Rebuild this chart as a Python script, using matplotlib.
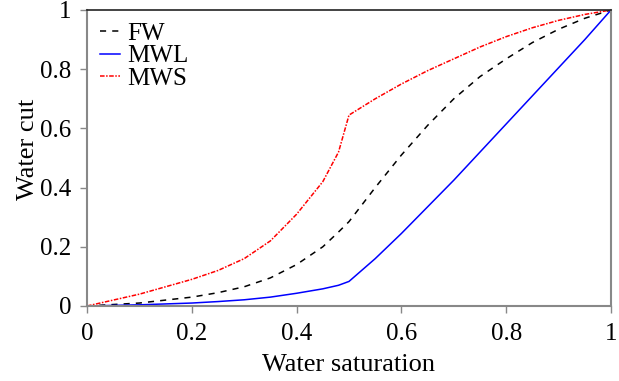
import matplotlib.pyplot as plt
import numpy as np

plt.rcParams['font.family'] = ['Liberation Serif', 'DejaVu Serif']

# Saturacao de agua (eixo x)
sw = [0.0, 0.1, 0.2, 0.25, 0.3, 0.35, 0.4, 0.45, 0.48, 0.5, 0.55, 0.6, 0.65,
      0.7, 0.75, 0.8, 0.85, 0.9, 0.95, 1.0]

# Curvas de water cut
fw = [0.0, 0.01, 0.03, 0.045, 0.065, 0.095, 0.14, 0.2, 0.25, 0.285, 0.40, 0.51,
      0.61, 0.70, 0.775, 0.835, 0.89, 0.935, 0.972, 1.0]
mwl = [0.0, 0.004, 0.01, 0.015, 0.021, 0.03, 0.043, 0.058, 0.07, 0.083, 0.16,
       0.245, 0.335, 0.425, 0.52, 0.615, 0.71, 0.805, 0.90, 1.0]
mws = [0.0, 0.04, 0.09, 0.12, 0.16, 0.22, 0.31, 0.42, 0.52, 0.645, 0.70, 0.75,
       0.795, 0.835, 0.875, 0.91, 0.94, 0.965, 0.985, 1.0]

xticks = [0, 0.2, 0.4, 0.6, 0.8, 1]
xticklabels = ['0', '0.2', '0.4', '0.6', '0.8', '1']
yticks = [0, 0.2, 0.4, 0.6, 0.8, 1]
yticklabels = ['0', '0.2', '0.4', '0.6', '0.8', '1']

fig = plt.figure(figsize=(6.19, 3.81), dpi=100)
ax = fig.add_axes([87 / 619, (381 - 306) / 381, 524 / 619, 296 / 381])

ax.plot(sw, fw, color='black', linestyle=(0, (4, 4)), linewidth=1.1, label='FW')
ax.plot(sw, mwl, color='blue', linestyle='-', linewidth=1.1, label='MWL')
ax.plot(sw, mws, color='red', linestyle=(0, (3, 1, 1, 1)), linewidth=1.1, label='MWS')

ax.set_xlim(0, 1)
ax.set_ylim(0, 1)
ax.set_xticks(xticks)
ax.set_xticklabels(xticklabels)
ax.set_yticks(yticks)
ax.set_yticklabels(yticklabels)
ax.tick_params(direction='out', length=5, color='#888888', labelsize=18, width=1)
ax.tick_params(axis='x', pad=7)
ax.tick_params(axis='y', pad=6)

# bordas: topo preto, resto cinza
ax.spines['top'].set_color('#222222')
ax.spines['top'].set_linewidth(1.2)
for s in ['left', 'right', 'bottom']:
    ax.spines[s].set_color('#888888')
    ax.spines[s].set_linewidth(1.5)

ax.set_xlabel('Water saturation', fontsize=19)
ax.set_ylabel('Water cut', fontsize=19)
ax.xaxis.set_label_coords(0.5, -0.163)
ax.yaxis.set_label_coords(-0.092, 0.53)

ax.legend(loc='upper left', frameon=False, fontsize=18, handlelength=0.8,
          handletextpad=0.3, labelspacing=0.0, borderaxespad=0.0,
          borderpad=0.5)

fig.savefig('out.png', dpi=100)
